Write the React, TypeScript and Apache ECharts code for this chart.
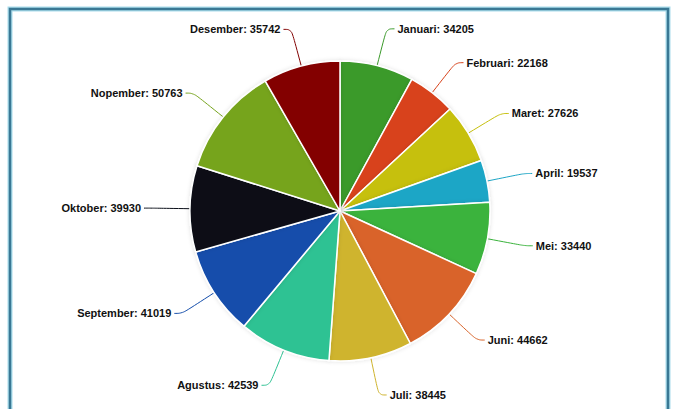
import React, { useEffect, useRef } from "react";
import * as echarts from "echarts";

const months = [
  "Januari", "Februari", "Maret", "April", "Mei", "Juni",
  "Juli", "Agustus", "September", "Oktober", "Nopember", "Desember",
];
const values = [34205, 22168, 27626, 19537, 33440, 44662, 38445, 42539, 41019, 39930, 50763, 35742];
const colors = [
  "#3a9a2a", "#d8421a", "#c6c00c", "#1ea6c6", "#3ab33c", "#d9642a",
  "#cfb42e", "#2ec293", "#134dab", "#0b0f19", "#76a41c", "#830404",
];

export default function App() {
  const ref = useRef<HTMLDivElement>(null);
  useEffect(() => {
    if (!ref.current) return;
    const chart = echarts.init(ref.current, undefined, { renderer: "svg" });
    const data = months.map((m, i) => ({
      name: m,
      value: values[i],
      itemStyle: { color: colors[i] },
      labelLine: { lineStyle: { color: colors[i] } },
    }));
    chart.setOption({
      animation: false,
      backgroundColor: "#ffffff",
      graphic: [
        {
          type: "rect",
          shape: { x: 10, y: 9, width: 658, height: 430 },
          style: { fill: "none", stroke: "#a9dceb", lineWidth: 5 },
          z: 0,
        },
        {
          type: "rect",
          shape: { x: 10, y: 9, width: 658, height: 430 },
          style: { fill: "none", stroke: "#3a7894", lineWidth: 2.5 },
          z: 1,
        },
      ],
      series: [
        {
          type: "pie",
          center: [340, 211],
          radius: 150,
          startAngle: 90,
          clockwise: true,
          avoidLabelOverlap: true,
          itemStyle: {
            borderColor: "#ffffff",
            borderWidth: 1.5,
            shadowBlur: 4,
            shadowColor: "rgba(0,0,0,0.12)",
          },
          label: {
            show: true,
            formatter: "{b}: {c}",
            color: "#111111",
            fontFamily: "Liberation Sans, Arial, sans-serif",
            fontWeight: "bold",
            fontSize: 11,
            distanceToLabelLine: 3,
          },
          labelLine: {
            show: true,
            length: 38,
            length2: 8,
            smooth: 0.4,
            lineStyle: { width: 1 },
          },
          data,
        },
      ],
    });
    return () => chart.dispose();
  }, []);
  return (
    <div
      ref={ref}
      style={{ position: "absolute", left: 0, top: 0, width: 673, height: 409 }}
    />
  );
}
